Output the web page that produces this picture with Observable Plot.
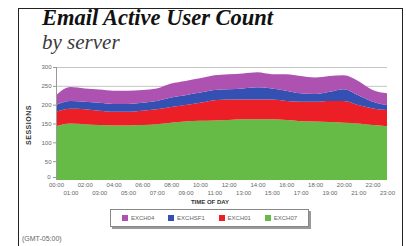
<!DOCTYPE html>
<html>
<head>
<meta charset="utf-8">
<script src="https://cdn.jsdelivr.net/npm/d3@7"></script>
<script src="https://cdn.jsdelivr.net/npm/@observablehq/plot@0.6"></script>
<style>
  html, body { margin: 0; padding: 0; background: #fff; }
  #wrap { position: relative; width: 406px; height: 246px; overflow: hidden; background: #fff; font-family: "Liberation Sans", Arial, sans-serif; }
  #frame { position: absolute; left: 18px; top: 8px; width: 385px; height: 260px; border: 1.5px solid #222; box-sizing: border-box; }
  #title { position: absolute; left: 42px; top: 5px; font-family: "Liberation Serif", serif; font-weight: bold; font-style: italic; font-size: 22.5px; color: #111; white-space: nowrap; }
  #subtitle { position: absolute; left: 42px; top: 30px; font-family: "Liberation Serif", serif; font-style: italic; font-size: 21px; color: #3a3a3a; white-space: nowrap; }
  #chart { position: absolute; left: 0; top: 55px; }
  #chart svg text { fill: #666; }
  #ylabel { position: absolute; left: 28px; top: 125px; transform: translate(-50%, -50%) rotate(-90deg); font-size: 7px; font-weight: bold; color: #333; white-space: nowrap; letter-spacing: 0.5px; }
  #xlabel { position: absolute; left: 210px; top: 199px; transform: translateX(-50%); font-size: 6px; font-weight: bold; color: #333; white-space: nowrap; }
  #legend { position: absolute; left: 110px; top: 209px; width: 199px; height: 18px; border: 1px solid #888; box-shadow: 2px 2px 0 #999; background: #fff; display: flex; align-items: center; justify-content: space-around; padding: 0 4px; box-sizing: border-box; }
  .item { display: flex; align-items: center; font-size: 6px; color: #666; white-space: nowrap; }
  .sw { width: 6px; height: 6px; margin-right: 3px; }
  #footer { position: absolute; left: 22px; top: 235px; font-size: 7px; color: #666; }
</style>
</head>
<body>
<div id="wrap">
  <div id="frame"></div>
  <div id="title">Email Active User Count</div>
  <div id="subtitle">by server</div>
  <div id="chart"></div>
  <div id="ylabel">SESSIONS</div>
  <div id="xlabel">TIME OF DAY</div>
  <div id="legend"></div>
  <div id="footer">(GMT-05:00)</div>
</div>
<script>
// Data
const hours = [0,1,2,3,4,5,6,7,8,9,10,11,12,13,14,15,16,17,18,19,20,21,22,23];
const hourLabels = hours.map(h => String(h).padStart(2, "0") + ":00");
const seriesNames = ["EXCH04", "EXCHSF1", "EXCH01", "EXCH07"]; // legend order (top to bottom of stack)
const seriesColors = ["#ad52b0", "#3450b2", "#ec1e26", "#66bb46"];
const exch07 = [143,150,148,146,145,145,146,148,152,155,157,158,159,161,161,161,159,156,155,154,152,150,146,143];
const exch01 = [38,39,40,38,36,36,38,40,42,44,48,54,55,53,53,53,51,52,53,56,58,49,44,43];
const exchsf1 = [18,21,20,21,21,21,21,22,25,26,27,27,27,29,32,29,27,22,20,24,31,26,18,13];
const exch04 = [26,37,35,35,35,35,34,33,37,38,38,39,40,40,40,38,44,46,44,42,37,38,31,31];
const yTicks = [0,50,100,150,200,250,300];

const valuesByName = { "EXCH04": exch04, "EXCHSF1": exchsf1, "EXCH01": exch01, "EXCH07": exch07 };
const stackOrder = ["EXCH07", "EXCH01", "EXCHSF1", "EXCH04"];
const rows = [];
for (const name of stackOrder) {
  valuesByName[name].forEach((v, i) => rows.push({ hour: hours[i], value: v, server: name }));
}

const chart = Plot.plot({
  width: 406,
  height: 155,
  marginLeft: 56,
  marginRight: 19,
  marginTop: 12,
  marginBottom: 30,
  style: { fontFamily: "Liberation Sans, Arial, sans-serif", background: "transparent" },
  x: { domain: [0, 23] },
  y: { domain: [0, 300] },
  color: { domain: seriesNames, range: seriesColors },
  marks: [
    Plot.gridY(yTicks.filter(t => t > 0), { stroke: "#c4c4c4", strokeOpacity: 1, strokeWidth: 1 }),
    Plot.areaY(rows, { x: "hour", y: "value", fill: "server", order: stackOrder, curve: "monotone-x" }),
    Plot.ruleX([0], { stroke: "#999" }),
    Plot.axisY(yTicks.filter(t => t > 0), { tickSize: 3, tickPadding: 2, fontSize: 6, stroke: "#999", label: null }),
    Plot.axisY([0], { tickSize: 3, tickPadding: 3, fontSize: 6, stroke: "#999", dy: -3, label: null }),
    Plot.axisX(hours.filter(h => h % 2 === 0), { tickSize: 0, tickPadding: 2, fontSize: 6, tickFormat: h => hourLabels[h], label: null }),
    Plot.axisX(hours.filter(h => h % 2 === 1), { tickSize: 0, tickPadding: 10, fontSize: 6, tickFormat: h => hourLabels[h], label: null })
  ]
});
document.getElementById("chart").appendChild(chart);

const legend = document.getElementById("legend");
seriesNames.forEach((name, i) => {
  const it = document.createElement("div");
  it.className = "item";
  it.innerHTML = `<span class="sw" style="background:${seriesColors[i]}"></span>${name}`;
  legend.appendChild(it);
});
</script>
</body>
</html>
